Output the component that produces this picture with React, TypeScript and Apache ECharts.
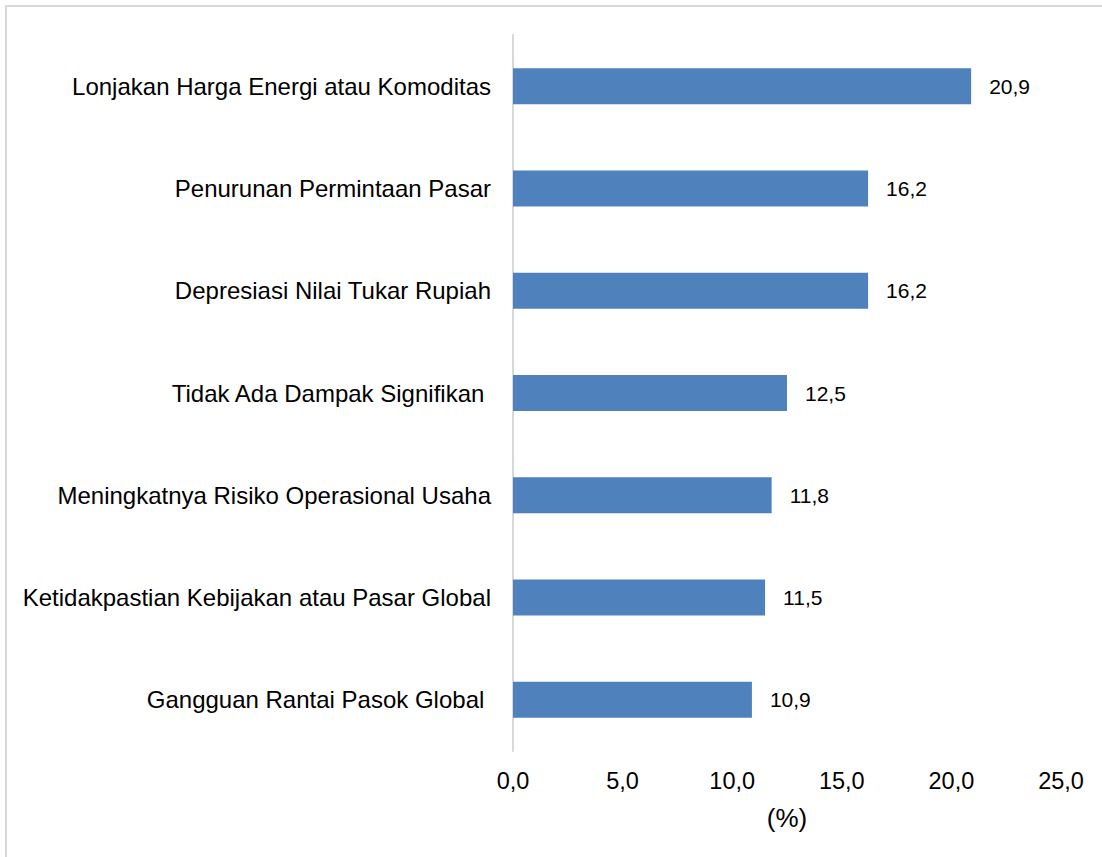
import React, { useEffect, useRef } from "react";
import * as echarts from "echarts";

const categories = [
  "Gangguan Rantai Pasok Global ",
  "Ketidakpastian Kebijakan atau Pasar Global",
  "Meningkatnya Risiko Operasional Usaha",
  "Tidak Ada Dampak Signifikan ",
  "Depresiasi Nilai Tukar Rupiah",
  "Penurunan Permintaan Pasar",
  "Lonjakan Harga Energi atau Komoditas",
];
const values = [10.9, 11.5, 11.8, 12.5, 16.2, 16.2, 20.9];
const axisMin = 0;
const axisMax = 25;
const axisStep = 5;
const axisName = "(%)";

const fmt = (v: number) => v.toFixed(1).replace(".", ",");

export default function App() {
  const ref = useRef<HTMLDivElement>(null);
  useEffect(() => {
    document.body.style.margin = "0";
    if (!ref.current) return;
    const chart = echarts.init(ref.current, undefined, { renderer: "svg" });
    const font = "'Liberation Sans', Arial, sans-serif";
    chart.setOption({
      animation: false,
      backgroundColor: "#ffffff",
      textStyle: { fontFamily: font },
      graphic: [
        {
          type: "rect",
          shape: { x: 6, y: 6, width: 1110, height: 870 },
          style: { fill: "none", stroke: "#d9d9d9", lineWidth: 2 },
          silent: true,
        },
      ],
      grid: { left: 513, right: 41, top: 35, bottom: 106, containLabel: false },
      xAxis: {
        type: "value",
        min: axisMin,
        max: axisMax,
        interval: axisStep,
        name: axisName,
        nameLocation: "middle",
        nameGap: 54,
        nameTextStyle: { color: "#000", fontSize: 26, fontFamily: font },
        axisLine: { show: false },
        axisTick: { show: false },
        splitLine: { show: false },
        axisLabel: {
          color: "#000",
          fontSize: 23.5,
          margin: 18,
          fontFamily: font,
          formatter: (v: number) => fmt(v),
        },
      },
      yAxis: {
        type: "category",
        data: categories,
        axisLine: { show: true, lineStyle: { color: "#d9d9d9", width: 2 } },
        axisTick: { show: false },
        axisLabel: { color: "#000", fontSize: 24, margin: 22, fontFamily: font },
      },
      series: [
        {
          type: "bar",
          data: values,
          barWidth: 36,
          itemStyle: { color: "#4f81bd" },
          label: {
            show: true,
            position: "right",
            distance: 18,
            color: "#000",
            fontSize: 21,
            fontFamily: font,
            formatter: (p: any) => fmt(p.value),
          },
        },
      ],
    });
    return () => chart.dispose();
  }, []);
  return <div ref={ref} style={{ width: 1102, height: 857 }} />;
}
